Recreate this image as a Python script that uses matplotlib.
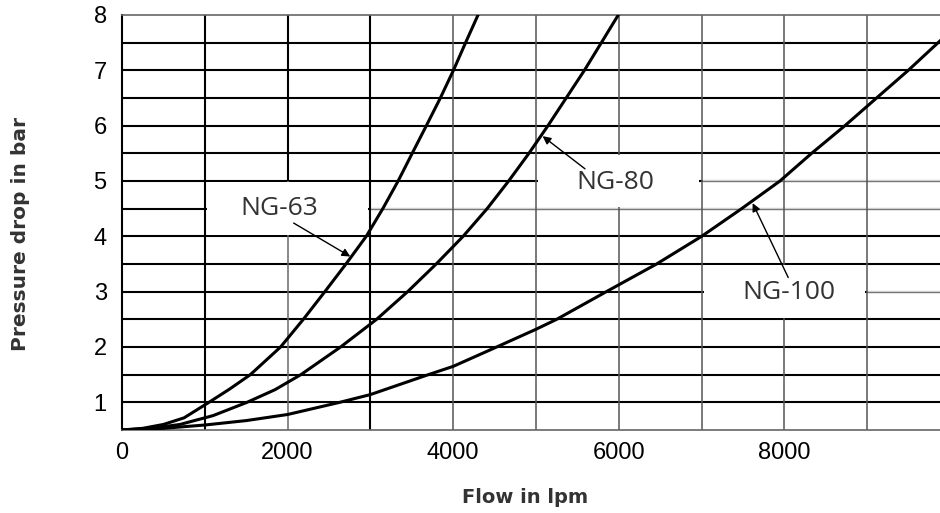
import numpy as np
import matplotlib.pyplot as plt
from matplotlib.patches import Rectangle

plt.rcParams['font.family'] = ['Liberation Sans', 'DejaVu Sans']

# Datos (caudal en lpm, caida de presion en bar)
flow_63 = [0, 250, 500, 750, 1050, 1300, 1550, 1915, 2190, 2450, 2705, 2950, 3150, 3335, 3505, 3676, 3845, 4003, 4150, 4300]
dp_63 = [0.5, 0.53, 0.6, 0.72, 1.0, 1.24, 1.5, 2.0, 2.5, 3.0, 3.5, 4.0, 4.5, 5.0, 5.5, 6.0, 6.5, 7.0, 7.5, 8.0]

flow_80 = [0, 350, 700, 1100, 1510, 1850, 2160, 2640, 3075, 3450, 3795, 4120, 4410, 4670, 4915, 5145, 5365, 5585, 5790, 5994]
dp_80 = [0.5, 0.53, 0.6, 0.76, 1.0, 1.23, 1.5, 2.0, 2.5, 3.0, 3.5, 4.0, 4.5, 5.0, 5.5, 6.0, 6.5, 7.0, 7.5, 8.0]

flow_100 = [0, 500, 1000, 1500, 2000, 2630, 3000, 3700, 4000, 4525, 5000, 5250, 5850, 6457, 7001, 7484, 7947, 8329, 8732, 9114, 9497, 9879]
dp_100 = [0.5, 0.53, 0.59, 0.67, 0.78, 1.0, 1.14, 1.5, 1.65, 2.0, 2.32, 2.5, 3.0, 3.5, 4.0, 4.5, 5.0, 5.5, 6.0, 6.5, 7.0, 7.53]

x_ticks = [0, 2000, 4000, 6000, 8000]
y_ticks = [1, 2, 3, 4, 5, 6, 7, 8]

# etiquetas: texto, posicion del texto, punta de flecha, cola, caja blanca (x0, y0, x1, y1)
labels = [
    ('NG-63', (1896, 4.5), (2757, 3.635), (2073, 4.24), (1000, 4.0, 3000, 5.0)),
    ('NG-80', (5954, 4.97), (5080, 5.81), (5592, 5.22), (5000, 4.5, 7000, 5.5)),
    ('NG-100', (8056, 2.98), (7617, 4.60), (8047, 3.255), (7000, 2.5, 9000, 3.5)),
]

# %% Grafico
fig = plt.figure(figsize=(9.4, 5.13), dpi=100)
ax = fig.add_axes([0.1298, 0.1618, 0.8702, 0.809])
ax.set_xlim(0, 9880)
ax.set_ylim(0.5, 8)

# grilla horizontal
for y in np.arange(1.0, 8.0, 0.5):
    ax.hlines(y, 0, 9880, color='black', lw=1.5, zorder=1)
# tramos finos
ax.hlines(4.5, 3000, 9880, color='white', lw=2.0, zorder=1.05)
ax.hlines(4.5, 3000, 9880, color='#777777', lw=1.0, zorder=1.1)
ax.hlines(5.0, 7000, 9880, color='white', lw=2.0, zorder=1.05)
ax.hlines(5.0, 7000, 9880, color='#777777', lw=1.0, zorder=1.1)
ax.hlines(3.0, 9000, 9880, color='white', lw=2.0, zorder=1.05)
ax.hlines(3.0, 9000, 9880, color='#777777', lw=1.0, zorder=1.1)

# grilla vertical
for x in [1000, 3000]:
    ax.vlines(x, 0.5, 8, color='black', lw=1.5, zorder=1.2)
ax.vlines(2000, 5, 8, color='black', lw=1.5, zorder=1.2)
ax.vlines(2000, 0.5, 5, color='#6a6a6a', lw=1.1, zorder=1.2)
for x in range(4000, 10000, 1000):
    ax.vlines(x, 0.5, 8, color='#555555', lw=1.1, zorder=1.2)

# cajas blancas detras de las etiquetas
for name, txy, head, tail, box in labels:
    x0, y0, x1, y1 = box
    ax.add_patch(Rectangle((x0 + 25, y0 + 0.025), x1 - x0 - 50, y1 - y0 - 0.05,
                           facecolor='white', edgecolor='none', zorder=2))

ax.plot(flow_63, dp_63, color='black', lw=2.2, zorder=3, solid_joinstyle='round')
ax.plot(flow_80, dp_80, color='black', lw=2.2, zorder=3, solid_joinstyle='round')
ax.plot(flow_100, dp_100, color='black', lw=2.2, zorder=3, solid_joinstyle='round')

for name, txy, head, tail, box in labels:
    ax.text(txy[0], txy[1], name, fontsize=19, color='#333333', family='Open Sans',
            ha='center', va='center', zorder=4)
    ax.annotate('', xy=head, xytext=tail,
                arrowprops=dict(arrowstyle='-|>', color='black', lw=1.0,
                                mutation_scale=12, shrinkA=0, shrinkB=0),
                zorder=4)

for s in ['top', 'bottom']:
    ax.spines[s].set_color('#666666')
    ax.spines[s].set_linewidth(1.2)
ax.spines['left'].set_color('black')
ax.spines['left'].set_linewidth(1.5)
ax.spines['right'].set_visible(False)

ax.set_xticks(x_ticks)
ax.set_yticks(y_ticks)
ax.tick_params(length=0, labelsize=17, colors='black')
ax.tick_params(axis='x', pad=9)
ax.tick_params(axis='y', pad=11)

fig.text(0.5585, 0.03, 'Flow in lpm', fontsize=14, fontweight='bold', family='DejaVu Sans',
         color='#333333', ha='center', va='center')
fig.text(0.0213, 0.544, 'Pressure drop in bar', fontsize=14.5, fontweight='bold',
         family='DejaVu Sans', color='#333333', ha='center', va='center', rotation=90)

fig.savefig('out.png', dpi=100)
